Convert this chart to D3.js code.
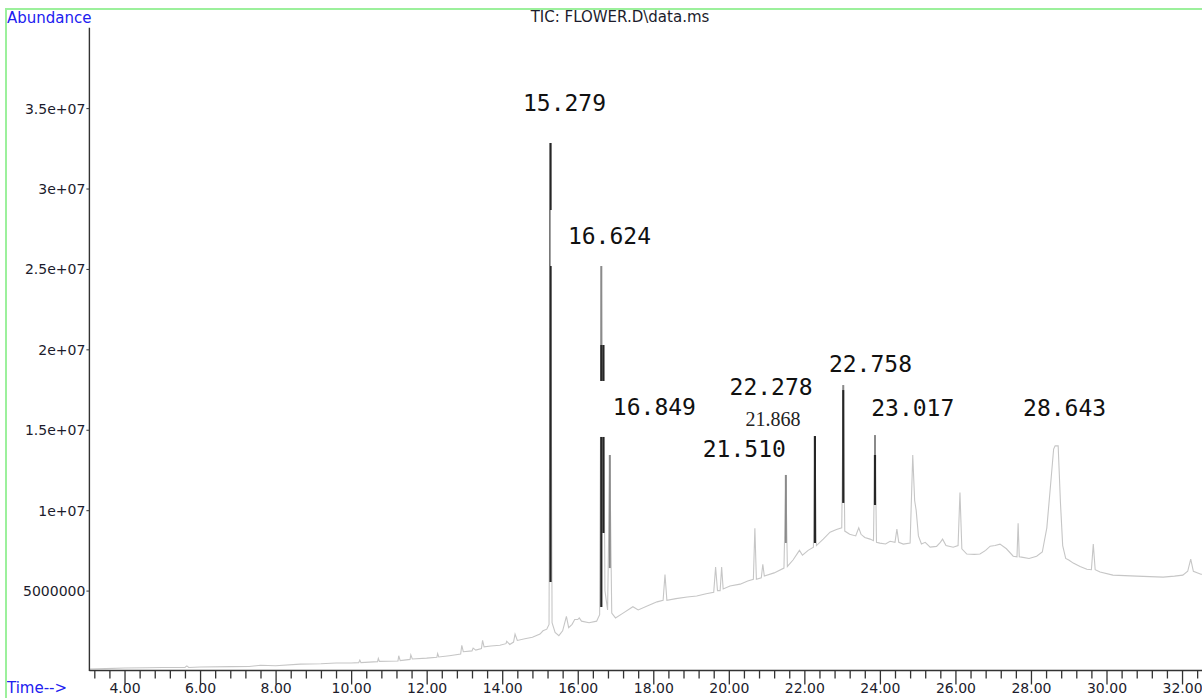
<!DOCTYPE html>
<html><head><meta charset="utf-8">
<script src="https://cdn.jsdelivr.net/npm/d3@7"></script>
<style>html,body{margin:0;padding:0;background:#fff;overflow:hidden}</style>
</head><body><svg id="c" width="1202" height="698"></svg>
<script>
// ---------- data ----------
const title = "TIC: FLOWER.D\\data.ms";
const yTitle = "Abundance";
const xTitle = "Time-->";
const xTickValues = [4, 6, 8, 10, 12, 14, 16, 18, 20, 22, 24, 26, 28, 30, 32];
const xTickLabels = ["4.00","6.00","8.00","10.00","12.00","14.00","16.00","18.00","20.00","22.00","24.00","26.00","28.00","30.00","32.00"];
const yTickValues = [5e6, 1e7, 1.5e7, 2e7, 2.5e7, 3e7, 3.5e7];
const yTickLabels = ["5000000","1e+07","1.5e+07","2e+07","2.5e+07","3e+07","3.5e+07"];
const UNIT = 1e6; // trace abundances below are in millions
// total ion chromatogram: [retention time (min), abundance (millions)]
const tic = [
[3.07,0.12],[3.5,0.15],[4.0,0.19],[4.6,0.2],[5.0,0.22],[5.6,0.22],[5.65,0.32],[5.7,0.22],[6.0,0.25],[6.8,0.27],[7.3,0.28],[7.6,0.36],[8.0,0.33],[8.65,0.43],[9.2,0.45],[9.6,0.5],[10.0,0.5],[10.2,0.52],[10.23,0.68],[10.26,0.52],[10.7,0.58],[10.72,0.78],[10.75,0.6],[11.24,0.62],[11.26,0.95],[11.3,0.65],[11.56,0.72],[11.58,1.0],[11.62,0.75],[12.0,0.8],[12.27,0.85],[12.29,1.08],[12.32,0.87],[12.6,0.95],[12.9,1.05],[12.93,1.6],[12.97,1.2],[13.2,1.25],[13.23,1.42],[13.3,1.3],[13.45,1.4],[13.48,1.9],[13.52,1.5],[13.7,1.55],[13.94,1.6],[14.1,1.7],[14.12,1.85],[14.2,1.65],[14.3,1.8],[14.34,2.3],[14.4,1.9],[14.6,2.0],[14.8,2.1],[15.0,2.3],[15.08,2.5],[15.18,2.6],[15.24,2.9],[15.279,32.83],[15.32,3.0],[15.4,2.4],[15.5,2.2],[15.6,2.5],[15.7,3.4],[15.76,2.7],[15.85,2.9],[15.92,3.2],[16.0,3.2],[16.04,3.3],[16.1,3.1],[16.3,3.0],[16.5,3.1],[16.58,3.5],[16.624,25.18],[16.65,15.0],[16.68,20.27],[16.72,5.0],[16.79,3.8],[16.849,13.43],[16.9,3.6],[17.0,3.3],[17.2,3.6],[17.46,4.0],[17.6,3.8],[17.9,4.1],[18.1,4.3],[18.26,4.4],[18.31,6.0],[18.36,4.4],[18.6,4.5],[18.9,4.6],[19.15,4.66],[19.4,4.8],[19.6,4.9],[19.65,6.46],[19.7,5.0],[19.77,5.0],[19.81,6.46],[19.85,5.1],[20.03,5.28],[20.3,5.4],[20.5,5.6],[20.65,5.7],[20.69,8.88],[20.73,5.7],[20.86,5.8],[20.9,6.64],[20.94,5.9],[21.2,6.1],[21.46,6.4],[21.51,12.19],[21.55,6.5],[21.7,6.9],[21.87,7.5],[21.95,7.2],[22.1,7.5],[22.24,7.7],[22.28,14.61],[22.32,7.8],[22.5,8.2],[22.68,8.63],[22.85,8.8],[22.99,8.9],[23.03,17.78],[23.07,8.7],[23.2,8.5],[23.36,8.4],[23.44,8.9],[23.5,8.5],[23.6,8.3],[23.74,8.2],[23.83,8.1],[23.87,14.67],[23.91,8.0],[24.0,7.95],[24.15,7.9],[24.27,8.07],[24.4,8.0],[24.45,8.82],[24.5,8.0],[24.62,7.89],[24.8,7.95],[24.87,13.43],[24.92,10.6],[24.96,10.0],[25.02,8.4],[25.1,7.9],[25.2,8.0],[25.33,7.7],[25.5,7.75],[25.6,8.0],[25.66,8.2],[25.75,7.8],[25.94,7.7],[26.07,7.8],[26.12,11.1],[26.17,7.6],[26.3,7.27],[26.5,7.25],[26.65,7.27],[26.8,7.5],[26.92,7.76],[27.05,7.8],[27.18,7.89],[27.35,7.6],[27.53,7.14],[27.63,7.1],[27.66,9.19],[27.69,7.1],[27.75,7.08],[27.95,7.0],[28.15,7.14],[28.3,7.4],[28.42,8.9],[28.52,11.6],[28.6,13.8],[28.64,14.0],[28.72,14.0],[28.78,10.5],[28.84,7.8],[28.92,7.0],[29.0,6.9],[29.12,6.71],[29.3,6.5],[29.48,6.33],[29.6,6.3],[29.65,7.89],[29.7,6.3],[29.83,6.15],[30.17,5.96],[30.8,5.9],[31.5,5.84],[31.8,5.9],[32.02,5.96],[32.15,6.2],[32.23,6.96],[32.3,6.2],[32.5,6.02],[32.6,6.0]
];
// darker overlay strokes on the major peaks: [time, top (millions), bottom (millions)]
const blackSegments = [[15.279,32.83,5.53],[16.624,20.27,3.98],[16.68,20.27,8.58],[22.28,14.61,7.96],[23.03,17.47,10.45],[23.87,13.43,10.32]];
const greySegments = [[16.624,25.18,20.27],[16.849,13.43,6.40],[21.51,12.19,7.96],[23.87,14.67,13.43],[23.03,17.78,17.47]];
// peak annotations: text, anchor time (min), anchor abundance
const labelTexts = ["15.279","16.624","16.849","22.278","21.510","22.758","23.017","28.643"];
const labelTimes = [14.55, 15.74, 16.93, 20.02, 19.31, 22.65, 23.77, 27.79];
const labelAbund = [3.482e7, 2.655e7, 1.592e7, 1.716e7, 1.331e7, 1.862e7, 1.586e7, 1.586e7];
const noteText = "21.868", noteTime = 20.44, noteAbund = 1.525e7;

// ---------- drawing ----------
const svg = d3.select("#c");
const x = d3.scaleLinear().domain([3.07, 32.6]).range([89.4, 1204.7]);
const y = d3.scaleLinear().domain([0, 4e7]).range([671, 27.7]);
const axisY = 670.5;
const sans = "DejaVu Sans, sans-serif";

// trace
svg.append("path").datum(tic)
  .attr("fill","none").attr("stroke","#c6c6c6").attr("stroke-width",1.1)
  .attr("d", d3.line().x(d=>x(d[0])).y(d=>y(d[1]*UNIT)));

svg.append("g").selectAll("line").data(greySegments).join("line")
  .attr("x1",d=>x(d[0])).attr("x2",d=>x(d[0]))
  .attr("y1",d=>y(d[1]*UNIT)).attr("y2",d=>y(d[2]*UNIT))
  .attr("stroke","#8a8a8a").attr("stroke-width",2);
svg.append("g").selectAll("line").data(blackSegments).join("line")
  .attr("x1",d=>x(d[0])).attr("x2",d=>x(d[0]))
  .attr("y1",d=>y(d[1]*UNIT)).attr("y2",d=>y(d[2]*UNIT))
  .attr("stroke","#262626").attr("stroke-width",2.2);

// labels (pasted with white backgrounds on two of them)
const boxed = new Set(["16.624","16.849"]);
const lg = svg.append("g");
labelTexts.forEach((t,i)=>{
  const px = x(labelTimes[i]), py = y(labelAbund[i]);
  const txt = lg.append("text").attr("x",px).attr("y",py)
    .attr("font-family","DejaVu Sans Mono, monospace").attr("font-size",23)
    .attr("fill","#111").text(t);
  if (boxed.has(t)) {
    const w = txt.node().getComputedTextLength();
    lg.insert("rect","text").attr("x",px-17.5).attr("y",py-34).attr("width",w+32).attr("height",56).attr("fill","#fff");
  }
});
svg.append("text").attr("x",x(noteTime)).attr("y",y(noteAbund))
  .attr("font-family","Liberation Serif, serif").attr("font-size",20).attr("fill","#222").text(noteText);

// y axis
const gy = svg.append("g").attr("transform",`translate(${x(3.07)},0)`)
  .call(d3.axisLeft(y).tickValues(yTickValues).tickFormat((d,i)=>yTickLabels[i]).tickSize(3).tickPadding(1));
gy.select(".domain").remove();
gy.selectAll("line").attr("stroke","#333");
gy.selectAll("text").attr("font-family",sans).attr("font-size",14).attr("fill","#1c1c2c").attr("dy","0.36em");
svg.append("line").attr("x1",x(3.07)).attr("x2",x(3.07)).attr("y1",y(4e7)).attr("y2",axisY+0.5)
  .attr("stroke","#333").attr("stroke-width",1.4);

// x axis
svg.append("line").attr("x1",x(3.07)).attr("x2",1202).attr("y1",axisY).attr("y2",axisY)
  .attr("stroke","#333").attr("stroke-width",1.4);
const minor = d3.range(3.2, 32.5, 0.4).filter(v=>Math.abs(v/2-Math.round(v/2))>0.01);
const gxm = svg.append("g").attr("transform",`translate(0,${axisY})`)
  .call(d3.axisBottom(x).tickValues(minor).tickSize(8).tickFormat(""));
gxm.select(".domain").remove();
gxm.selectAll("line").attr("stroke","#333").attr("stroke-width",1.3);
const gx = svg.append("g").attr("transform",`translate(0,${axisY})`)
  .call(d3.axisBottom(x).tickValues(xTickValues).tickSize(14).tickFormat((d,i)=>xTickLabels[i]));
gx.select(".domain").remove();
gx.selectAll("line").attr("stroke","#333").attr("stroke-width",1.3);
gx.selectAll("text").attr("y",22.5).attr("dy",null).attr("font-family",sans).attr("font-size",14).attr("fill","#1c1c2c");

// titles
svg.append("text").attr("x",620).attr("y",22).attr("text-anchor","middle")
  .attr("font-family",sans).attr("font-size",15).attr("fill","#1c1c2c").text(title);
svg.append("text").attr("x",7).attr("y",22.5)
  .attr("font-family",sans).attr("font-size",15).attr("fill","#2020f0").text(yTitle);
svg.append("text").attr("x",7).attr("y",693)
  .attr("font-family",sans).attr("font-size",15).attr("fill","#2020f0").text(xTitle);

// frame
svg.append("path").attr("d","M6,698V9H1202").attr("fill","none").attr("stroke","#9cf09c").attr("stroke-width",2);
</script></body></html>
